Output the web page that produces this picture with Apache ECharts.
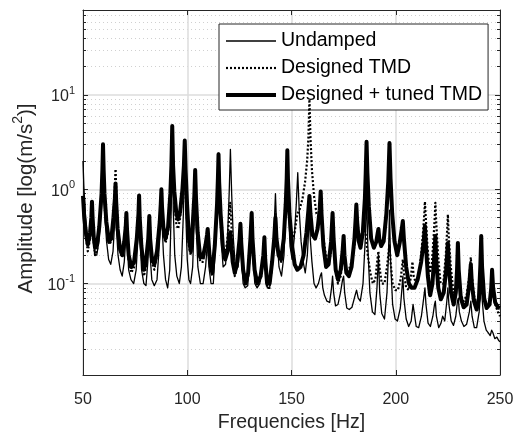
<!DOCTYPE html>
<html><head><meta charset="utf-8">
<script src="https://cdn.jsdelivr.net/npm/echarts@6/dist/echarts.min.js"></script>
<style>html,body{margin:0;padding:0;background:#fff}#c{width:520px;height:438px}</style>
</head><body><div id="c"></div>
<script>
const seriesNames = ['Undamped', 'Designed TMD', 'Designed + tuned TMD'];
const xTickValues = [50, 100, 150, 200, 250];
const yMajorTicks = [0.1, 1, 10];
const yMinorTicks = [0.02,0.03,0.04,0.05,0.06,0.07,0.08,0.09,0.2,0.3,0.4,0.5,0.6,0.7,0.8,0.9,2,3,4,5,6,7,8,9,20,30,40,50,60,70];

const undampedF = [50,50.4,51,51.8,52.6,53.5,54.2,54.5,54.8,55.6,56.6,57.6,58.8,59.3,59.6,59.9,60.4,61.3,62.3,63.3,64.4,65.2,65.6,66,66.8,67.8,68.8,69.8,70.5,70.8,71.1,71.9,73,74.3,75.5,76.5,76.9,77.3,78.1,79.2,80.2,81.1,81.8,82.2,83,84.2,85.5,86.8,87.3,87.6,87.9,88.6,89.6,90.6,91.6,92.3,92.8,93.3,94,95,96.2,97.2,98.2,98.8,99.3,100,100.8,101.6,102.6,103.3,103.8,104.3,105.1,106.3,107.6,108.8,109.8,110.4,111.4,112.5,113.7,114.6,115,115.4,116.2,117.2,118.4,119.4,120.1,120.7,121.3,122.1,123.2,124.4,125.1,125.5,125.9,126.8,127.8,129,130.2,130.9,131.4,132.4,133.5,134.8,136.3,137,137.5,138.4,139.5,140.6,141.6,142.3,143,144,145.2,146.4,147.4,148,148.5,149.3,150.3,151.3,152.3,153,153.7,154.6,155.6,156.6,157.6,158.3,158.6,159,159.8,160.8,161.8,162.9,163.8,164.4,165,165.8,167,168.3,169.2,169.7,170.2,171.1,172.3,173.5,174.5,175,175.5,176.5,177.7,179,180.5,181.2,182,183,184.3,185.4,186,186.6,187.6,188.8,190,191,191.7,192.3,193.3,194.6,195.8,196.5,197,197.5,198.5,199.7,200.8,202.2,203,203.4,203.9,205,206.2,207.4,208.3,208.8,209.8,211,212.3,213.4,214,214.5,215.5,216.6,217.8,218.6,219,219.5,220.6,221.7,222.5,223.5,224.5,225,225.5,226.6,227.7,228.8,229.6,230,230.5,231.5,232.7,234,235.3,236,236.6,237.7,238.8,240,240.7,241,241.4,242.3,243.4,244.4,245.3,246,246.6,247.5,248.5,249.3,250];
const undampedV = [2.0,1.1,0.6,0.35,0.25,0.24,0.4,0.55,0.35,0.2,0.2,0.28,0.6,1.2,2.5,1.1,0.55,0.28,0.18,0.16,0.22,0.45,0.9,0.4,0.2,0.14,0.12,0.17,0.3,0.45,0.28,0.14,0.11,0.1,0.14,0.35,0.7,0.32,0.14,0.1,0.095,0.17,0.4,0.2,0.11,0.095,0.11,0.3,0.5,0.8,0.45,0.2,0.11,0.09,0.14,0.6,3.5,0.6,0.2,0.12,0.1,0.15,0.6,2.5,0.55,0.18,0.11,0.1,0.15,0.45,1.2,0.4,0.15,0.1,0.1,0.15,0.3,0.15,0.1,0.1,0.3,0.9,2.0,0.8,0.3,0.15,0.16,0.35,0.9,2.65,0.9,0.3,0.14,0.15,0.25,0.38,0.2,0.1,0.09,0.095,0.2,0.45,0.2,0.1,0.09,0.1,0.17,0.28,0.15,0.09,0.09,0.14,0.35,0.9,0.33,0.15,0.12,0.2,0.7,2.2,0.65,0.25,0.18,0.3,0.7,1.5,0.6,0.28,0.17,0.13,0.2,0.4,0.55,0.3,0.17,0.1,0.09,0.1,0.12,0.13,0.09,0.075,0.065,0.063,0.09,0.12,0.08,0.058,0.06,0.08,0.11,0.12,0.08,0.055,0.053,0.056,0.075,0.085,0.07,0.065,0.1,0.3,0.9,0.25,0.08,0.05,0.047,0.09,0.2,0.08,0.048,0.042,0.08,0.2,0.6,0.18,0.06,0.042,0.04,0.055,0.09,0.12,0.07,0.042,0.035,0.04,0.06,0.05,0.035,0.034,0.045,0.07,0.09,0.06,0.038,0.035,0.045,0.06,0.065,0.045,0.034,0.038,0.045,0.04,0.065,0.09,0.06,0.04,0.036,0.045,0.065,0.07,0.05,0.04,0.035,0.037,0.05,0.065,0.045,0.034,0.034,0.05,0.08,0.11,0.07,0.04,0.032,0.03,0.028,0.032,0.03,0.026,0.027,0.025,0.024];

const designedF = [50,50.6,51.5,52.3,53.4,54,54.3,54.6,55.2,55.8,56.8,57.8,58.9,59.3,59.6,59.9,60.3,61.2,62.5,63.6,64.6,65.2,65.6,66,66.7,67.8,68.8,69.8,70.5,70.8,71.1,71.9,73.2,74.5,75.8,76.6,76.9,77.2,78,79.2,80.3,81.3,81.8,82.2,83,84.2,85.5,86.8,87.3,87.6,87.9,88.6,89.6,90.8,91.9,92.4,92.8,93.2,93.8,94.8,95.6,96.6,97.6,98.2,98.6,99,99.8,100.8,101.7,102.7,103.4,103.8,104.2,105,106.2,107.5,108.8,109.8,110.1,110.9,112,113.2,114.3,114.7,115,115.3,116,117.1,118.2,119.3,120.1,120.6,121.1,122,122.8,124,125.1,125.5,125.9,126.8,128,129.2,130.3,130.9,131.3,132.3,133.6,135.2,136.5,137,137.4,138.3,139.5,140.7,141.7,142.3,142.8,143.8,145,146.3,147.3,147.7,148,148.3,149,150.3,151.5,152.8,154,155.3,156.5,157.5,158.1,158.6,159.1,159.8,160.8,162,163.2,164,165,166.2,167.5,168.8,169.7,170.2,171.2,172.3,173.6,174.5,175,175.4,176.3,177.5,178.8,180.2,181.1,182,183,184,184.8,185.6,186.6,187.8,189,190.2,191.2,191.7,192.2,193.3,194.6,195.8,196.6,197,197.5,198.5,199.8,201,202.3,203,203.4,203.9,205,206.3,207.3,208,208.6,209.7,211,212.2,213.2,213.7,214,214.4,215.2,216.3,217.3,218.2,218.7,219,219.4,220.3,221.5,222.8,224,224.6,225,225.4,226.4,227.7,228.8,229.4,229.8,230.2,231.3,232.6,234,235.3,236,236.5,237.5,238.8,239.9,240.6,241,241.4,242.4,243.6,245,245.8,246.2,246.7,247.7,249,250];
const designedV = [0.8,0.45,0.3,0.22,0.3,0.45,0.68,0.45,0.26,0.2,0.23,0.38,0.85,1.5,2.9,1.5,0.85,0.42,0.26,0.28,0.55,0.95,1.64,0.9,0.4,0.22,0.19,0.25,0.36,0.5,0.34,0.18,0.13,0.15,0.27,0.5,0.75,0.45,0.22,0.12,0.15,0.27,0.45,0.27,0.17,0.14,0.2,0.4,0.6,0.9,0.58,0.33,0.27,0.35,0.8,1.6,4.2,1.6,0.75,0.42,0.38,0.5,0.85,1.25,1.5,1.1,0.5,0.25,0.2,0.35,0.7,1.3,0.65,0.3,0.17,0.17,0.24,0.33,0.26,0.15,0.12,0.25,0.75,1.3,2.4,1.2,0.55,0.24,0.2,0.3,0.5,0.72,0.45,0.2,0.12,0.16,0.28,0.4,0.25,0.13,0.1,0.12,0.27,0.5,0.27,0.13,0.1,0.11,0.18,0.28,0.16,0.09,0.09,0.16,0.3,0.55,0.3,0.19,0.17,0.3,0.75,1.3,2.5,1.3,0.55,0.3,0.35,0.55,0.62,0.8,1.2,2.0,3.5,9,3.5,1.6,0.85,0.55,0.5,0.55,0.35,0.22,0.17,0.2,0.45,0.25,0.13,0.1,0.12,0.18,0.25,0.17,0.13,0.14,0.17,0.25,0.38,0.3,0.3,0.36,0.4,0.33,0.2,0.13,0.1,0.11,0.18,0.22,0.15,0.1,0.1,0.15,0.22,0.26,0.17,0.1,0.085,0.085,0.11,0.15,0.18,0.13,0.09,0.085,0.12,0.17,0.12,0.1,0.12,0.2,0.38,0.55,0.74,0.5,0.25,0.13,0.16,0.32,0.5,0.72,0.45,0.2,0.1,0.1,0.2,0.35,0.54,0.32,0.15,0.08,0.09,0.14,0.22,0.13,0.075,0.065,0.075,0.12,0.19,0.12,0.075,0.06,0.07,0.1,0.13,0.1,0.065,0.055,0.06,0.08,0.1,0.075,0.06,0.05,0.045];

const tunedF = [50,50.6,51.5,52.3,53.4,54,54.3,54.6,55.2,55.8,56.8,57.8,58.9,59.3,59.6,59.9,60.3,61.2,62.5,63.6,64.6,65.3,65.6,65.9,66.6,67.8,68.8,69.8,70.5,70.8,71.1,71.9,73.2,74.5,75.8,76.6,76.9,77.2,78,79.2,80.3,81.3,81.8,82.2,83,84.2,85.5,86.8,87.3,87.6,87.9,88.6,89.6,90.8,91.9,92.4,92.8,93.2,93.8,94.8,95.6,96.6,97.7,98.4,98.8,99.2,99.9,100.8,101.7,102.7,103.4,103.8,104.2,105,106.2,107.5,108.8,109.5,109.8,110.1,110.9,112,113.2,114.3,114.7,115,115.3,116,117.1,118.2,119.4,120.3,120.6,120.9,121.8,122.8,124,125.1,125.5,125.9,126.8,128,129.2,130.3,130.9,131.3,132.3,133.6,135.2,136.5,137,137.4,138.3,139.5,140.7,141.7,142.3,142.8,143.8,145,146.3,147.3,147.7,148,148.3,149,150.3,151.5,152.8,154.3,155.8,157.2,158.1,158.6,159.1,160,161.3,162.5,163.5,164,164.4,165.3,166.6,167.8,169,169.7,170.2,171.2,172.3,173.6,174.5,175,175.4,176.3,177.5,178.8,180.2,180.8,181.1,181.5,182.3,183.1,184.2,185.2,185.6,186,186.4,187.1,188.2,189.5,190.7,191.4,191.7,192.1,193,194.2,195.5,196.4,197,197.5,198.3,199.4,200.7,201.9,202.9,203.4,203.9,205,206.3,207.7,209,210.5,212.2,213.4,214,214.5,215.4,216.5,217.6,218.5,219,219.4,220.4,221.6,223,224.2,225,225.5,226.5,227.8,228.8,229.4,229.8,230.2,231.2,232.6,234,235.3,236,236.5,237.5,238.8,239.9,240.6,241,241.4,242.4,243.6,245,245.8,246.2,246.7,247.7,249,250];
const tunedV = [0.85,0.5,0.33,0.26,0.35,0.5,0.74,0.5,0.3,0.24,0.26,0.4,0.9,1.6,3.0,1.6,0.9,0.45,0.28,0.3,0.5,0.8,1.15,0.75,0.38,0.23,0.2,0.28,0.4,0.56,0.38,0.2,0.15,0.17,0.3,0.55,0.86,0.5,0.25,0.14,0.18,0.3,0.52,0.3,0.19,0.16,0.22,0.45,0.7,1.0,0.65,0.38,0.3,0.4,0.9,1.8,4.7,1.8,0.95,0.55,0.48,0.58,1.0,1.8,3.3,1.6,0.7,0.3,0.22,0.45,0.85,1.6,0.8,0.35,0.19,0.19,0.26,0.33,0.38,0.3,0.17,0.13,0.25,0.7,1.3,2.35,1.2,0.55,0.24,0.18,0.22,0.3,0.35,0.3,0.17,0.13,0.17,0.3,0.43,0.27,0.14,0.1,0.13,0.3,0.56,0.3,0.14,0.1,0.12,0.2,0.31,0.18,0.1,0.1,0.17,0.3,0.5,0.3,0.2,0.18,0.3,0.75,1.3,2.6,1.3,0.55,0.25,0.16,0.14,0.15,0.2,0.35,0.6,0.85,0.55,0.33,0.3,0.38,0.6,0.95,0.55,0.25,0.15,0.16,0.28,0.56,0.3,0.14,0.11,0.14,0.22,0.32,0.2,0.13,0.12,0.15,0.3,0.5,0.69,0.45,0.28,0.24,0.35,0.8,1.5,3.2,1.5,0.65,0.3,0.24,0.28,0.35,0.38,0.3,0.25,0.28,0.55,1.2,3.1,1.3,0.55,0.28,0.2,0.27,0.38,0.46,0.3,0.15,0.1,0.09,0.09,0.11,0.17,0.28,0.41,0.25,0.12,0.075,0.1,0.2,0.32,0.18,0.09,0.068,0.08,0.14,0.27,0.15,0.08,0.06,0.08,0.14,0.27,0.14,0.07,0.056,0.06,0.1,0.16,0.1,0.065,0.053,0.07,0.16,0.32,0.15,0.07,0.055,0.06,0.09,0.14,0.09,0.063,0.056,0.055];

function zip(f, v) { return f.map((x, i) => [x, v[i]]); }

const chart = echarts.init(document.getElementById('c'), null, {renderer: 'canvas'});
const axisColor = '#262626';
const textColor = '#262626';
const fontFam = 'Liberation Sans, Arial, sans-serif';
const yMin = 0.0107, yMax = 80;
const supLabel = v => '{b|10}{s|' + Math.round(Math.log10(v)) + '}';
const labelRich = {
  b: {fontSize: 16, color: textColor, fontFamily: fontFam, lineHeight: 20, verticalAlign: 'bottom'},
  s: {fontSize: 11, color: textColor, fontFamily: fontFam, lineHeight: 20, verticalAlign: 'top'}
};
const baseY = {type: 'log', logBase: 10, min: yMin, max: yMax, gridIndex: 0};
chart.setOption({
  animation: false,
  backgroundColor: '#fff',
  grid: {left: 83, right: 20, top: 10, bottom: 56, containLabel: false},
  legend: {
    data: seriesNames,
    orient: 'vertical', left: 219, top: 24,
    itemWidth: 50, itemHeight: 20, itemGap: 7,
    padding: [7, 6, 5, 5],
    backgroundColor: '#fff', borderColor: '#262626', borderWidth: 1, borderRadius: 0,
    itemStyle: {opacity: 0},
    lineStyle: {width: 'inherit', type: 'inherit', color: '#000'},
    textStyle: {fontSize: 19.5, color: '#000', fontFamily: fontFam},
    selectedMode: false
  },
  xAxis: [{
    type: 'value', min: 50, max: 250, interval: 50, position: 'bottom',
    axisLine: {show: true, onZero: false, lineStyle: {color: axisColor, width: 1}},
    axisTick: {show: true, inside: true, length: 5, lineStyle: {color: axisColor}},
    axisLabel: {fontSize: 16, color: textColor, margin: 17, fontFamily: fontFam},
    splitLine: {show: true, lineStyle: {color: '#dcdcdc', width: 1.5}},
    name: 'Frequencies [Hz]', nameLocation: 'middle', nameGap: 38,
    nameTextStyle: {fontSize: 19.5, color: textColor, fontFamily: fontFam}
  }, {
    type: 'value', min: 50, max: 250, interval: 50, position: 'top',
    axisLine: {show: true, onZero: false, lineStyle: {color: axisColor, width: 1}},
    axisTick: {show: true, inside: true, length: 5, lineStyle: {color: axisColor}},
    axisLabel: {show: false}, splitLine: {show: false}
  }],
  yAxis: [
    Object.assign({}, baseY, {
      position: 'left',
      axisLine: {show: true, onZero: false, lineStyle: {color: axisColor, width: 1}},
      axisTick: {show: true, inside: true, length: 5, customValues: yMajorTicks, lineStyle: {color: axisColor}},
      axisLabel: {show: true, customValues: yMajorTicks, margin: 8, formatter: supLabel, rich: labelRich},
      splitLine: {show: true, lineStyle: {color: '#dcdcdc', width: 1.5}},
      name: '{a|Amplitude [log(m/s}{s|2}{a|)]}', nameLocation: 'middle', nameGap: 43,
      nameTextStyle: {padding: [0, 12, 0, 0], rich: {
        a: {fontSize: 20.5, color: textColor, fontFamily: fontFam, lineHeight: 25, verticalAlign: 'bottom'},
        s: {fontSize: 14, color: textColor, fontFamily: fontFam, lineHeight: 25, verticalAlign: 'top'}
      }}
    }),
    Object.assign({}, baseY, {
      position: 'left',
      axisLine: {show: false},
      axisTick: {show: true, inside: true, length: 3, customValues: yMinorTicks, lineStyle: {color: axisColor}},
      axisLabel: {show: false},
      splitLine: {show: true, lineStyle: {color: '#d0d0d0', width: 1, type: [1, 3]}}
    }),
    Object.assign({}, baseY, {
      position: 'right',
      axisLine: {show: true, onZero: false, lineStyle: {color: axisColor, width: 1}},
      axisTick: {show: true, inside: true, length: 5, customValues: yMajorTicks, lineStyle: {color: axisColor}},
      axisLabel: {show: false}, splitLine: {show: false}
    }),
    Object.assign({}, baseY, {
      position: 'right',
      axisLine: {show: false},
      axisTick: {show: true, inside: true, length: 3, customValues: yMinorTicks, lineStyle: {color: axisColor}},
      axisLabel: {show: false}, splitLine: {show: false}
    })
  ],
  series: [
    {name: seriesNames[0], type: 'line', xAxisIndex: 0, yAxisIndex: 0, symbol: 'none', data: zip(undampedF, undampedV),
     lineStyle: {color: '#000', width: 1.3, join: 'round'}, itemStyle: {color: '#000'}, z: 3},
    {name: seriesNames[1], type: 'line', xAxisIndex: 0, yAxisIndex: 0, symbol: 'none', data: zip(designedF, designedV),
     lineStyle: {color: '#000', width: 2.2, type: [2, 2], join: 'round'}, itemStyle: {color: '#000'}, z: 4},
    {name: seriesNames[2], type: 'line', xAxisIndex: 0, yAxisIndex: 0, symbol: 'none', data: zip(tunedF, tunedV),
     lineStyle: {color: '#000', width: 4, join: 'round'}, itemStyle: {color: '#000'}, z: 5}
  ]
});
</script></body></html>
